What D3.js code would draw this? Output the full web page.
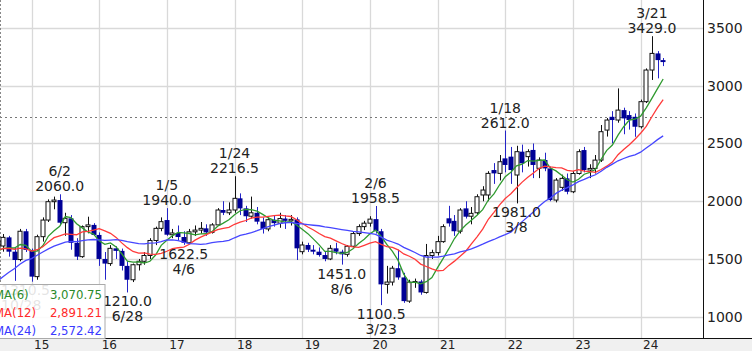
<!DOCTYPE html>
<html><head><meta charset="utf-8">
<script src="https://cdn.jsdelivr.net/npm/d3@7"></script>
<style>html,body{margin:0;padding:0;background:#fff;overflow:hidden}</style>
</head><body><svg id="c" width="752" height="351"></svg>
<script>
// first candle = 2014-07, month offset from 2015-01 = -6
const firstMonthOffset = -6;
const open  = [1600,1612,1687,1563,1495,1740, 1578,1347,1693,1837,1996,2010,1814,1852,1640,1520,1780,1795, 1708,1500,1460,1592,1570,1440,1320,1450,1480,1530,1660,1765, 1837,1710,1725,1690,1640,1735,1750,1765,1730,1795,1924,1900, 1924,2025,1938,1870,1900,1823,1760,1840,1810,1850,1830,1843, 1563,1621,1580,1563,1534,1500,1592,1563,1540,1610,1720,1780, 1810,1845,1740,1280,1300,1420,1340,1135,1300,1305,1210,1530, 1555,1650,1852,1830,1740,1938,1870,1900,2054,2054,2270,2241, 2371,2386,2227,2429,2386,2444,2285,2357,2284,2010,2120,2198, 2082,2240,2443,2270,2284,2356,2616,2731,2703,2789,2746,2731, 2645,2862,3136,3280,3222];
const high  = [1680,1716,1700,1600,1760,1760, 1590,1710,1860,2016,2040,2060,1900,1880,1680,1790,1866,1810, 1730,1560,1620,1610,1590,1480,1460,1500,1560,1680,1780,1860, 1940,1760,1790,1740,1760,1790,1820,1800,1810,1940,2000,1990, 2216.5,2068,1960,2040,1950,1860,1860,1880,1900,1880,1880,1860, 1650,1640,1620,1600,1560,1620,1640,1580,1620,1740,1800,1830, 1870,1958.5,1760,1440,1440,1580,1380,1320,1330,1320,1630,1580, 1700,1800,1960,1880,1940,2000,1950,2060,2130,2260,2330,2400, 2612,2470,2480,2490,2450,2500,2380,2420,2300,2200,2230,2240, 2260,2450,2470,2320,2400,2660,2720,2780,2977,2810,2780,2760, 2880,3150,3429,3300,3240];
const low   = [1580,1563,1520,1310.5,1480,1560, 1303,1320,1650,1820,1930,1790,1700,1580,1491,1510,1722,1700, 1440,1320,1440,1500,1400,1210,1300,1400,1450,1500,1620,1740, 1700,1680,1660,1622.5,1630,1700,1720,1700,1720,1790,1880,1880, 1900,1880,1820,1850,1800,1720,1740,1780,1770,1760,1790,1491, 1540,1560,1540,1520,1480,1490,1540,1451,1520,1600,1700,1750, 1780,1720,1100.5,1200,1270,1320,1120,1120,1250,1190,1200,1500, 1530,1640,1780,1700,1720,1850,1800,1880,2000,2000,2150,2180, 2250,2150,1981,2250,2300,2200,2200,2260,2000,1990,2090,2060, 2070,2230,2250,2200,2240,2340,2560,2501,2680,2580,2620,2558, 2630,2850,3050,3064,3170];
const close = [1650,1687,1563,1491,1740,1578, 1347,1693,1837,1996,2010,1814,1852,1640,1520,1780,1795,1708, 1500,1460,1592,1570,1440,1320,1450,1480,1530,1660,1765,1823, 1710,1725,1690,1640,1735,1750,1765,1730,1795,1924,1900,1924, 2025,1938,1870,1900,1823,1760,1840,1810,1850,1830,1843,1592, 1621,1580,1563,1534,1500,1592,1563,1540,1610,1720,1780,1810, 1845,1740,1280,1300,1420,1340,1135,1300,1305,1210,1530,1555, 1650,1780,1808,1740,1924,1866,1895,2039,2097,2241,2241,2342, 2314,2270,2429,2328,2429,2314,2357,2284,2010,2183,2198,2082, 2240,2429,2270,2284,2356,2602,2703,2703,2789,2717,2703,2645, 2862,3136,3280,3222,3205];
// closes before the first drawn candle (2012-07 .. 2014-06), used for the moving averages
const historyClose = [700,690,700,720,780,860, 950,1020,1150,1350,1450,1380,1450,1480,1560,1580,1620,1650, 1580,1550,1530,1500,1560,1620];

const yTicks = [1000,1500,2000,2500,3000,3500];
const yearLabels = ["15","16","17","18","19","20","21","22","23","24"];
const refLevel = 2730;
const maPeriods = [6,12,24];
const maNames = ["MA(6)","MA(12)","MA(24)"];
const maLegendValues = ["3,070.75","2,891.21","2,572.42"];
const maColors = ["#2f9a2f","#ff3a3a","#4646ff"];
const maTextColors = ["#2a8a2a","#ff2a2a","#3a3aff"];
const highIdx   = [11,30,42,67,90,116];
const highDates = ["6/2","1/5","1/24","2/6","1/18","3/21"];
const highVals  = ["2060.0","1940.0","2216.5","1958.5","2612.0","3429.0"];
const lowIdx    = [3,23,33,61,68,92];
const lowDates  = ["10/28","6/28","4/6","8/6","3/23","3/8"];
const lowVals   = ["1310.5","1210.0","1622.5","1451.0","1100.5","1981.0"];

const W = 752, H = 351, PR = 703, PB = 338;
const svg = d3.select("#c");
const x = d3.scaleLinear().domain([0,108]).range([31.5,640.6]);   // months from 2015-01
const y = d3.scaleLinear().domain([1000,3500]).range([316.7,28]);
const cx = i => x(i + firstMonthOffset);
const font = "'DejaVu Sans', Verdana, sans-serif";

svg.append("rect").attr("x",0).attr("y",PB).attr("width",W).attr("height",H-PB).attr("fill","#f0f0f0");
svg.append("defs").append("clipPath").attr("id","pc").append("rect").attr("x",0).attr("y",0).attr("width",PR).attr("height",PB);
const plot = svg.append("g").attr("clip-path","url(#pc)");

// grid
plot.selectAll(".gy").data(yTicks).join("line")
  .attr("x1",0).attr("x2",PR).attr("y1",d=>Math.round(y(d))+0.5).attr("y2",d=>Math.round(y(d))+0.5)
  .attr("stroke","#d9d9d9").attr("stroke-width",1.3);
plot.selectAll(".gx").data(yearLabels).join("line")
  .attr("x1",(d,k)=>Math.round(x(k*12))+0.5).attr("x2",(d,k)=>Math.round(x(k*12))+0.5)
  .attr("y1",0).attr("y2",PB).attr("stroke","#d9d9d9").attr("stroke-width",1.3);
plot.append("line").attr("x1",0).attr("x2",PR).attr("y1",Math.round(y(refLevel))+0.5).attr("y2",Math.round(y(refLevel))+0.5)
  .attr("stroke","#777").attr("stroke-dasharray","2,3");
plot.append("line").attr("x1",0.5).attr("x2",0.5).attr("y1",0).attr("y2",284)
  .attr("stroke","#888").attr("stroke-dasharray","2,2");

// candles
const idx = d3.range(close.length);
const up = i => close[i] >= open[i];
plot.selectAll(".wick").data(idx).join("line")
  .attr("x1",i=>Math.round(cx(i))+0.5).attr("x2",i=>Math.round(cx(i))+0.5)
  .attr("y1",i=>y(high[i])).attr("y2",i=>y(low[i]))
  .attr("stroke",i=>up(i)?"#111":"#2424c8").attr("stroke-width",1);
plot.selectAll(".body").data(idx).join("rect")
  .attr("x",i=>Math.round(cx(i))-2+ (up(i)?0:-0.5))
  .attr("width",i=>up(i)?4:5)
  .attr("y",i=>y(Math.max(open[i],close[i])))
  .attr("height",i=>Math.max(1,Math.abs(y(open[i])-y(close[i]))))
  .attr("fill",i=>up(i)?"#fff":"#000096")
  .attr("stroke",i=>up(i)?"#111":"none").attr("stroke-width",1);

// moving averages
const allClose = historyClose.concat(close);
maPeriods.forEach((n,k)=>{
  const vals = idx.map(i=>{const j=i+historyClose.length; return d3.mean(allClose.slice(j-n+1,j+1));});
  plot.append("path").datum(idx).attr("fill","none").attr("stroke",maColors[k]).attr("stroke-width",1.3)
    .attr("d",d3.line().x(i=>cx(i)).y(i=>y(vals[i])));
});

// annotations
const ann = svg.append("g").attr("font-family",font).attr("font-size",14).attr("fill","#222").attr("text-anchor","middle");
function place(txt, cxv, yb){
  const t = ann.append("text").attr("x",cxv).attr("y",yb).text(txt);
  const w = t.node().getComputedTextLength();
  if (cxv - w/2 < 1) t.attr("x", 1 + w/2);
  if (cxv + w/2 > PR-2) t.attr("x", PR-2-w/2);
}
highIdx.forEach((i,k)=>{ const yy=y(high[i]); place(highVals[k],cx(i),yy-3); place(highDates[k],cx(i),yy-18); });
lowIdx.forEach((i,k)=>{ const yy=y(low[i]); place(lowVals[k],cx(i),yy+14); place(lowDates[k],cx(i),yy+29); });

// axes
svg.append("line").attr("x1",PR+0.5).attr("x2",PR+0.5).attr("y1",0).attr("y2",PB).attr("stroke","#111");
svg.append("line").attr("x1",0).attr("x2",W).attr("y1",PB+0.5).attr("y2",PB+0.5).attr("stroke","#111");
svg.append("g").selectAll("text").data(yTicks).join("text")
  .attr("x",707).attr("y",d=>y(d)+5).attr("font-family",font).attr("font-size",14).attr("fill","#222").text(d=>d);
svg.append("g").selectAll("text").data(yearLabels).join("text")
  .attr("x",(d,k)=>x(k*12)+2.5).attr("y",349).attr("font-family",font).attr("font-size",12).attr("fill","#222").text(d=>d);

// legend
const lg = svg.append("g");
lg.append("rect").attr("x",-2).attr("y",284.5).attr("width",107).attr("height",54).attr("fill","#fff").attr("fill-opacity",0.88).attr("stroke","#aaa");
maNames.forEach((nm,k)=>{
  lg.append("text").attr("x",-6).attr("y",299+k*18).attr("font-family","'DejaVu Sans Condensed', 'DejaVu Sans', sans-serif").attr("font-stretch","condensed").attr("font-size",13).attr("fill",maTextColors[k]).text(nm);
  lg.append("text").attr("x",102).attr("y",299+k*18).attr("text-anchor","end").attr("font-family","'DejaVu Sans Condensed', 'DejaVu Sans', sans-serif").attr("font-stretch","condensed").attr("font-size",13).attr("fill",maTextColors[k]).text(maLegendValues[k]);
});
</script></body></html>
